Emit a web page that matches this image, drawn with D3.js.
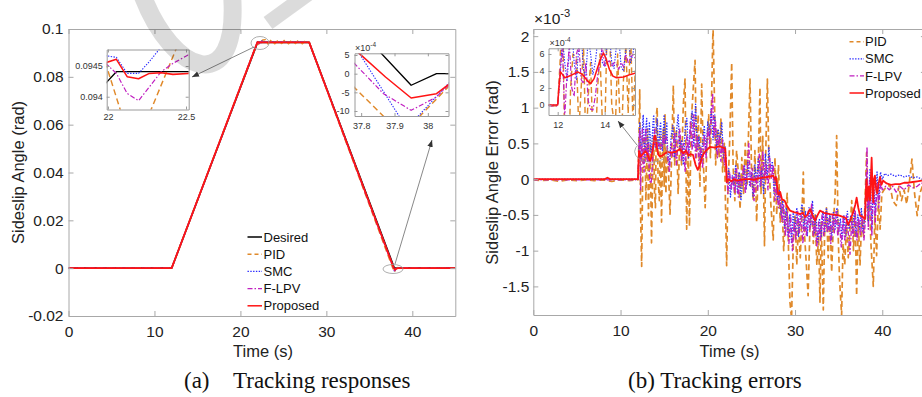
<!DOCTYPE html>
<html><head><meta charset="utf-8">
<script src="https://cdn.jsdelivr.net/npm/d3@7"></script>
<style>body{margin:0;background:#fff}svg{display:block}</style>
</head><body>
<svg id="c" width="922" height="397"></svg>
<script>
// ---------------- DATA ----------------
// (a) Tracking responses, [time (s), sideslip angle (rad)]
const respDesired = [[0,0],[12,0],[21.985,0.094217],[22.054,0.094408],[28,0.094408],[37.95,-0.00031],[38.026,0],[45,0]];
const respPID = [[0,0],[12,0],[21.985,0.094543],[22.08,0.09378],[22.17,0.0933],[22.276,0.09379],[22.437,0.09478],[22.6,0.0954],[22.9,0.0955],[23.2,0.0938],[23.6,0.0954],[24.0,0.0939],[24.4,0.0953],[24.8,0.0940],[25.2,0.0955],[25.6,0.0939],[26.0,0.0953],[26.4,0.0940],[26.8,0.0954],[27.2,0.0939],[27.6,0.0952],[28,0.0944],[37.766,-0.00025],[37.867,-0.00114],[37.904,-0.0015],[37.95,-0.0016],[37.976,-0.00114],[38.066,-0.00031],[38.3,0.0002],[38.6,-0.0001],[39,0],[45,0]];
const respSMC = [[0,0],[12,0],[21.985,0.094668],[22.054,0.094641],[22.123,0.09438],[22.196,0.09438],[22.265,0.094571],[22.33,0.094777],[22.42,0.0951],[22.7,0.0946],[23.2,0.0944],[23.8,0.0946],[24.5,0.0944],[25.2,0.0946],[26,0.0944],[26.8,0.0946],[27.5,0.0944],[28,0.0944],[37.795,0.000536],[37.914,-0.00114],[37.945,-0.0015],[37.971,-0.00114],[38.066,-0.000223],[38.3,0.0001],[38.6,0],[45,0]];
const respFLPV = [[0,0],[12,0],[21.985,0.094543],[22.054,0.09438],[22.123,0.094054],[22.196,0.093935],[22.341,0.094408],[22.416,0.094543],[22.513,0.094679],[22.8,0.0946],[23.5,0.0944],[24.5,0.0945],[25.5,0.0944],[26.5,0.0945],[27.5,0.0944],[28,0.0944],[37.766,0.0004],[37.867,-0.000536],[37.95,-0.000982],[38.026,-0.000625],[38.066,-0.000268],[38.4,0],[45,0]];
const respProposed = [[0,0],[12,0],[21.985,0.094554],[22.054,0.094609],[22.123,0.094326],[22.196,0.094293],[22.265,0.09438],[22.341,0.094391],[22.416,0.094364],[22.513,0.09438],[23,0.09439],[25,0.0944],[27,0.09439],[28,0.09438],[37.795,0.000536],[37.873,-0.000089],[37.95,-0.000652],[38.026,-0.000536],[38.066,-0.000268],[38.3,0],[45,0]];

// (b) Tracking errors, [time (s), error (x1e-3 rad)]
const errPID = [[0,-0.01],[1,-0.02],[2,-0.01],[3,-0.03],[4,-0.01],[5,-0.02],[6,-0.01],[7,-0.02],[8,-0.01],[9,-0.03],[10,-0.01],[11,-0.02],[12,-0.01],
[12.1,0.5],[12.2,1.25],[12.3,-0.5],[12.42,-1.22],[12.55,0.2],[12.65,0.6],[12.8,0.55],[12.9,-0.3],[13.0,0.2],[13.1,0.7],[13.2,-0.51],[13.3,0.1],[13.4,0.5],[13.55,-0.89],[13.7,0.2],[13.8,0.6],[13.9,-0.2],[14.0,-0.4],[14.1,0.89],[14.2,1.0],[14.3,0.0],[14.45,-0.3],[14.55,0.6],[14.7,-0.6],[14.8,0.3],[14.9,0.7],[15.0,-0.1],[15.1,0.9],[15.2,-0.2],[15.3,0.4],
[15.5,0.1],[15.67,-0.49],[15.85,0.3],[16.05,1.31],[16.2,0.2],[16.4,0.7],[16.6,-0.2],[16.8,0.6],[17.0,0.2],[17.2,1.05],[17.39,1.4],[17.58,-0.7],[17.75,0.4],[17.9,-0.66],[18.1,0.8],[18.3,1.2],[18.54,1.66],[18.7,0.3],[18.9,0.9],[19.1,-0.1],[19.3,1.33],[19.5,0.2],[19.7,-0.4],[19.9,0.5],[20.1,0.9],[20.3,0.3],[20.6,2.15],[20.75,1.2],[20.9,0.2],[21.1,0.7],[21.3,0.3],[21.5,0.84],[21.7,0.1],[21.9,0.5],[22.16,-1.21],[22.3,-0.2],[22.5,0.5],[22.74,1.63],[22.9,0.2],[23.1,-0.3],[23.3,0.4],[23.5,0.1],[23.7,-0.42],[23.9,0.3],[24.1,-0.2],[24.3,0.5],[24.5,-0.1],[24.84,1.4],[25.0,0.2],[25.2,-0.3],[25.4,0.4],[25.6,-0.6],[25.8,0.3],[25.98,1.28],[26.1,-0.2],[26.3,0.6],[26.5,-0.93],[26.65,0.4],[26.83,1.4],[27.0,0.3],[27.2,-0.3],[27.5,-0.85],[27.7,0.3],[27.9,-0.5],[28.1,0.2],[28.3,-0.6],[28.5,-0.3],[28.7,-1.0],[28.9,-0.5],[29.1,-0.2],[29.24,-0.93],[29.42,-1.72],[29.6,-1.95],[29.8,-0.9],[30.0,-0.5],[30.2,-1.2],[30.4,-0.6],[30.6,-1.1],[30.76,-0.6],[30.95,0.1],[31.1,-0.8],[31.3,-1.2],[31.5,-1.63],[31.7,-0.7],[31.9,-0.4],[32.1,-0.9],[32.3,-0.5],[32.5,-1.2],[32.7,-0.8],[32.86,-1.72],[33.0,-0.6],[33.24,-1.83],[33.4,-0.7],[33.6,-0.4],[33.8,-1.1],[34.0,-0.5],[34.2,-1.3],[34.4,-0.6],[34.6,-0.2],[34.77,0.61],[34.95,-0.8],[35.1,-1.4],[35.34,-1.9],[35.5,-0.9],[35.7,-1.2],[35.9,-0.6],[36.1,-1.1],[36.3,-0.7],[36.5,-0.3],[36.7,-1.0],[36.9,-0.5],[37.06,-1.63],[37.25,-0.6],[37.45,-1.2],[37.65,-0.5],[37.85,-0.8],[38.0,-0.4],[38.2,0.37],[38.35,-0.6],[38.5,-0.2],[38.7,-0.9],[38.97,-1.5],[39.15,-0.5],[39.35,-1.07],[39.55,-0.3],[39.75,-0.7],[39.95,-0.2],[40.2,-0.15],[40.5,-0.1],[40.9,-0.09],[41.2,-0.3],[41.6,-0.37],[41.9,-0.1],[42.2,-0.3],[42.5,-0.15],[42.8,-0.35],[43.1,-0.05],[43.4,0.28],[43.7,-0.2],[44.0,-0.51],[44.3,-0.2],[44.6,-0.1],[45,-0.2]];
const errSMC = [[0,0],[12,0],
[12.1,0.3],[12.2,0.8],[12.3,0.5],[12.4,0.28],[12.5,0.7],[12.6,0.9],[12.7,0.5],[12.8,0.3],[12.9,0.7],[13.0,0.85],[13.1,0.4],[13.2,0.35],[13.3,0.8],[13.4,0.6],[13.5,0.36],[13.6,0.5],[13.7,0.75],[13.8,0.9],[13.9,0.5],[14.0,0.45],[14.1,0.7],[14.2,0.85],[14.3,0.5],[14.4,0.43],[14.5,0.7],[14.6,0.8],[14.7,0.45],[14.8,0.4],[14.9,0.65],[15.0,0.9],[15.1,0.5],[15.2,0.6],[15.3,0.8],[15.4,0.4],
[15.6,0.2],[15.8,0.6],[16.0,0.75],[16.2,0.3],[16.4,0.65],[16.6,0.9],[16.8,0.4],[17.0,0.55],[17.2,0.2],[17.4,0.7],[17.6,0.85],[17.8,0.3],[18.0,0.7],[18.2,0.95],[18.4,0.45],[18.6,1.05],[18.8,0.4],[19.0,0.6],[19.2,0.25],[19.4,0.5],[19.6,0.75],[19.8,0.35],[20.0,0.8],[20.2,0.6],[20.4,1.0],[20.6,0.55],[20.8,0.9],[21.0,0.4],[21.2,0.7],[21.4,0.5],[21.6,0.8],[21.8,0.3],[22.0,0.45],[22.2,-0.05],[22.4,0.15],[22.6,-0.25],[22.8,0.05],[23.0,-0.1],[23.2,0.2],[23.4,-0.2],[23.6,0.1],[23.8,-0.3],[24.0,0.0],[24.2,0.2],[24.4,-0.15],[24.6,0.25],[24.8,-0.1],[25.0,0.1],[25.2,-0.25],[25.4,0.2],[25.6,-0.05],[25.8,0.3],[26.0,-0.1],[26.2,0.15],[26.4,-0.2],[26.6,0.35],[26.8,0.0],[27.0,0.45],[27.2,0.1],[27.4,0.25],[27.6,-0.2],[27.8,0.05],[28.0,-0.3],[28.2,-0.15],[28.4,-0.5],[28.6,-0.3],[28.8,-0.7],[29.0,-0.4],[29.2,-0.8],[29.4,-0.5],[29.6,-0.9],[29.8,-0.45],[30.0,-0.75],[30.2,-0.4],[30.4,-0.8],[30.6,-0.5],[30.8,-0.35],[31.0,-0.7],[31.2,-0.45],[31.4,-0.8],[31.6,-0.4],[31.8,-0.65],[32.0,-0.3],[32.2,-0.75],[32.4,-0.5],[32.6,-0.9],[32.8,-0.55],[33.0,-0.8],[33.2,-0.45],[33.4,-0.75],[33.6,-0.4],[33.8,-0.7],[34.0,-0.5],[34.2,-0.85],[34.4,-0.45],[34.6,-0.7],[34.8,-0.4],[35.0,-0.75],[35.2,-0.55],[35.4,-0.85],[35.6,-0.5],[35.8,-0.8],[36.0,-0.45],[36.2,-0.7],[36.4,-0.5],[36.6,-0.75],[36.8,-0.4],[37.0,-0.8],[37.2,-0.5],[37.4,-0.7],[37.6,-0.4],[37.8,-0.75],[38.0,-0.5],[38.2,0.1],[38.4,-0.6],[38.6,0.15],[38.8,-0.7],[39.0,0.0],[39.2,-0.5],[39.4,0.1],[39.6,-0.3],[39.8,0.1],[40.0,0.0],[40.3,0.08],[40.6,0.05],[41.0,0.07],[41.5,0.04],[42.0,0.06],[42.5,0.03],[43.0,0.05],[43.5,0.02],[44.0,0.03],[44.5,0.0],[45,0.0]];
const errFLPV = [[0,-0.01],[12,-0.01],
[12.1,0.4],[12.2,0.68],[12.3,-0.15],[12.4,0.4],[12.5,0.7],[12.6,0.2],[12.7,0.1],[12.8,0.6],[12.9,0.7],[13.0,0.3],[13.1,0.25],[13.2,0.5],[13.3,0.05],[13.4,-0.05],[13.5,-0.06],[13.6,0.1],[13.7,0.35],[13.8,0.5],[13.9,0.7],[14.0,0.45],[14.1,0.5],[14.2,0.52],[14.3,0.45],[14.4,0.5],[14.5,0.48],[14.6,0.42],[14.7,0.5],[14.8,0.45],[14.9,0.6],[15.0,0.5],[15.1,0.55],[15.2,0.6],[15.3,0.55],[15.4,0.3],
[15.6,0.1],[15.8,0.5],[16.0,0.3],[16.2,0.65],[16.4,0.2],[16.6,0.55],[16.8,0.7],[17.0,0.25],[17.2,0.5],[17.4,0.1],[17.6,0.6],[17.8,0.35],[18.0,0.8],[18.2,0.4],[18.4,0.9],[18.6,0.3],[18.8,0.6],[19.0,0.2],[19.2,0.45],[19.4,0.15],[19.6,0.6],[19.8,0.3],[20.0,0.7],[20.2,0.5],[20.4,0.9],[20.55,1.2],[20.7,0.6],[20.9,0.8],[21.1,0.3],[21.3,0.6],[21.5,0.25],[21.7,0.55],[21.9,0.2],[22.1,0.3],[22.3,-0.2],[22.5,0.1],[22.7,-0.15],[22.9,0.05],[23.1,-0.2],[23.3,0.15],[23.5,-0.25],[23.7,0.05],[23.9,-0.1],[24.1,0.2],[24.3,-0.2],[24.5,0.1],[24.7,0.5],[24.9,-0.1],[25.1,0.15],[25.3,-0.3],[25.5,0.05],[25.7,-0.15],[25.9,0.35],[26.1,-0.1],[26.3,0.4],[26.5,0.0],[26.7,0.2],[26.9,-0.15],[27.1,0.3],[27.3,0.0],[27.5,0.2],[27.7,-0.3],[27.9,-0.1],[28.1,-0.4],[28.3,-0.2],[28.5,-0.6],[28.7,-0.35],[28.9,-0.8],[29.1,-0.45],[29.3,-0.9],[29.5,-0.5],[29.7,-1.0],[29.9,-0.6],[30.1,-0.85],[30.3,-0.45],[30.5,-0.75],[30.7,-0.5],[30.9,-0.9],[31.1,-0.55],[31.3,-0.8],[31.5,-0.45],[31.7,-0.7],[31.9,-0.35],[32.1,-0.8],[32.3,-0.55],[32.5,-0.95],[32.7,-0.6],[32.9,-0.85],[33.1,-0.5],[33.3,-0.8],[33.5,-0.45],[33.7,-0.75],[33.9,-0.55],[34.1,-0.9],[34.3,-0.5],[34.5,-0.75],[34.7,-0.45],[34.9,-0.8],[35.1,-0.6],[35.3,-0.95],[35.5,-0.55],[35.7,-0.85],[35.9,-0.5],[36.1,-0.75],[36.3,-1.05],[36.5,-0.6],[36.7,-0.8],[36.9,-0.45],[37.1,-0.85],[37.3,-0.55],[37.5,-0.8],[37.7,-0.5],[37.9,-0.85],[38.1,-0.5],[38.25,0.45],[38.4,-0.7],[38.6,0.0],[38.8,-0.8],[39.0,-0.1],[39.2,-0.6],[39.4,-0.05],[39.6,-0.4],[39.8,-0.05],[40.0,-0.15],[40.4,-0.1],[40.8,-0.15],[41.2,-0.1],[41.6,-0.18],[42.0,-0.1],[42.5,-0.15],[43.0,-0.08],[43.5,-0.12],[44.0,-0.1],[44.5,-0.05],[45,-0.1]];
const errProposed = [[0,0],[8.2,0],[8.5,0.02],[8.8,0],[12,0],
[12.05,0.2],[12.12,0.39],[12.2,0.36],[12.3,0.32],[12.45,0.335],[12.65,0.36],[12.85,0.39],[13.05,0.36],[13.25,0.29],[13.4,0.25],[13.55,0.31],[13.7,0.44],[13.85,0.56],[13.95,0.61],[14.05,0.55],[14.2,0.42],[14.35,0.34],[14.5,0.32],[14.8,0.33],[15.1,0.36],[15.4,0.38],
[15.8,0.37],[16.3,0.38],[16.8,0.42],[17.2,0.36],[17.5,0.4],[17.8,0.33],[18.0,0.35],[18.3,0.34],[18.6,0.2],[18.85,0.13],[19.1,0.2],[19.4,0.33],[19.8,0.4],[20.25,0.45],[20.8,0.44],[21.3,0.46],[21.78,0.44],[22.0,0.43],[22.1,0.2],[22.16,-0.04],[22.4,0.0],[22.7,-0.03],[23.0,0.0],[23.3,-0.02],[23.8,-0.01],[24.3,0.0],[24.8,0.0],[25.3,-0.01],[25.8,0.01],[26.3,0.02],[26.8,0.03],[27.2,0.04],[27.5,0.05],[27.7,0.0],[27.8,0.03],[27.9,-0.05],[28.0,-0.15],[28.1,-0.22],[28.3,-0.18],[28.5,-0.28],[28.8,-0.3],[29.1,-0.38],[29.42,-0.44],[29.87,-0.46],[30.2,-0.47],[30.57,-0.49],[30.9,-0.47],[31.14,-0.53],[31.4,-0.5],[31.72,-0.42],[32.0,-0.5],[32.3,-0.58],[32.6,-0.5],[32.86,-0.44],[33.3,-0.47],[34.0,-0.49],[34.6,-0.5],[35.1,-0.51],[35.55,-0.53],[35.85,-0.55],[36.1,-0.64],[36.4,-0.55],[36.7,-0.45],[36.9,-0.36],[37.06,-0.26],[37.25,-0.4],[37.45,-0.51],[37.8,-0.53],[38.02,-0.56],[38.1,-0.2],[38.2,0.0],[38.3,-0.3],[38.45,-0.1],[38.6,-0.3],[38.78,0.3],[38.9,-0.2],[38.97,-0.32],[39.05,0.0],[39.16,0.05],[39.3,-0.15],[39.43,-0.2],[39.6,-0.05],[39.74,0.03],[39.9,-0.08],[40.1,-0.02],[40.5,-0.06],[41.0,-0.08],[41.5,-0.07],[42.03,-0.07],[42.5,-0.05],[43.0,-0.05],[43.5,-0.04],[44.0,-0.03],[44.5,-0.02],[45,-0.03]];

// tick labels
const timeTicks = [0, 10, 20, 30, 40];
const timeLabels = ["0", "10", "20", "30", "40"];
const respTicks = [-0.02, 0, 0.02, 0.04, 0.06, 0.08, 0.1];
const respLabels = ["-0.02", "0", "0.02", "0.04", "0.06", "0.08", "0.1"];
const errTicks = [-1.5, -1, -0.5, 0, 0.5, 1, 1.5, 2];
const errLabels = ["-1.5", "-1", "-0.5", "0", "0.5", "1", "1.5", "2"];
const insetATimeTicks = [22, 22.5], insetATimeLabels = ["22", "22.5"];
const insetAValTicks = [0.094, 0.0945], insetAValLabels = ["0.094", "0.0945"];
const insetBTimeTicks = [37.8, 37.9, 38], insetBTimeLabels = ["37.8", "37.9", "38"];
const insetBValTicks = [-10e-4, -5e-4, 0, 5e-4], insetBValLabels = ["-10", "-5", "0", "5"];
const insetCTimeTicks = [12, 14], insetCTimeLabels = ["12", "14"];
const insetCValTicks = [0, 0.2, 0.4, 0.6], insetCValLabels = ["0", "2", "4", "6"];
const respNames = ["Desired", "PID", "SMC", "F-LPV", "Proposed"];
const errNames = ["PID", "SMC", "F-LPV", "Proposed"];

// ---------------- DRAWING ----------------
const FONT = "'Liberation Sans', Arial, Helvetica, sans-serif";
const SERIF = "'Liberation Serif', 'Times New Roman', serif";
const style = {
  "Desired": {c: "#000000", d: null, w: 1.6},
  "PID": {c: "#E0892A", d: "6,3.5", w: 1.7},
  "SMC": {c: "#2B2BFF", d: "1.4,1.4", w: 1.3},
  "F-LPV": {c: "#C01FC0", d: "5,2,1.5,2", w: 1.4},
  "Proposed": {c: "#FF1414", d: null, w: 1.8}
};
const respData = {"Desired": respDesired, "PID": respPID, "SMC": respSMC, "F-LPV": respFLPV, "Proposed": respProposed};
const errData = {"PID": errPID, "SMC": errSMC, "F-LPV": errFLPV, "Proposed": errProposed};

const svg = d3.select("#c");
const defs = svg.append("defs");
defs.append("marker").attr("id", "arr").attr("viewBox", "0 0 10 10").attr("refX", 10).attr("refY", 5)
  .attr("markerUnits", "userSpaceOnUse").attr("markerWidth", 7).attr("markerHeight", 7).attr("orient", "auto")
  .append("path").attr("d", "M0,1 L10,5 L0,9 z").attr("fill", "#333");

let clipN = 0;
function clipRect(x, y) {
  const id = "clip" + (clipN++);
  const [x0, x1] = x.range(), [y1, y0] = y.range();
  defs.append("clipPath").attr("id", id).append("rect")
    .attr("x", x0).attr("y", y0).attr("width", x1 - x0).attr("height", y1 - y0);
  return id;
}
function drawSeries(g, names, data, x, y, scaleW) {
  const cid = clipRect(x, y);
  const line = d3.line().x(d => x(d[0])).y(d => y(d[1]));
  const lg = g.append("g").attr("clip-path", `url(#${cid})`);
  names.forEach(n => {
    const s = style[n];
    lg.append("path").datum(data[n]).attr("d", line).attr("fill", "none")
      .attr("stroke", s.c).attr("stroke-width", s.w * (scaleW || 1)).attr("stroke-dasharray", s.d)
      .attr("stroke-linejoin", "round");
  });
}
function drawAxes(g, x, y, o) {
  const [y1, y0] = y.range(), [x0, x1] = x.range();
  const fmtX = (d, i) => o.xl[i], fmtY = (d, i) => o.yl[i];
  const parts = [
    g.append("g").attr("transform", `translate(0,${y1})`).call(d3.axisBottom(x).tickValues(o.xt).tickFormat(fmtX).tickSizeInner(-o.tick).tickSizeOuter(0).tickPadding(o.padX)),
    g.append("g").attr("transform", `translate(0,${y0})`).call(d3.axisTop(x).tickValues(o.xt).tickFormat(() => "").tickSizeInner(-o.tick).tickSizeOuter(0)),
    g.append("g").attr("transform", `translate(${x0},0)`).call(d3.axisLeft(y).tickValues(o.yt).tickFormat(fmtY).tickSizeInner(-o.tick).tickSizeOuter(0).tickPadding(o.padY)),
    g.append("g").attr("transform", `translate(${x1},0)`).call(d3.axisRight(y).tickValues(o.yt).tickFormat(() => "").tickSizeInner(-o.tick).tickSizeOuter(0))
  ];
  parts.forEach(p => {
    p.attr("font-size", o.fs).attr("font-family", FONT);
    p.selectAll(".domain, .tick line").attr("stroke", o.color).attr("stroke-width", 1);
    p.selectAll("text").attr("fill", o.text);
  });
}
function exponent(g, x, y, base, sup, fs, color) {
  const t = g.append("text").attr("x", x).attr("y", y).attr("font-family", FONT).attr("font-size", fs).attr("fill", color);
  t.append("tspan").text(base);
  t.append("tspan").attr("dy", -fs * 0.45).attr("font-size", fs * 0.72).text(sup);
}
function legend(g, names, x1, x2, tx, y0, step) {
  names.forEach((n, i) => {
    const s = style[n], yy = y0 + i * step;
    g.append("line").attr("x1", x1).attr("x2", x2).attr("y1", yy).attr("y2", yy)
      .attr("stroke", s.c).attr("stroke-width", Math.min(s.w, 1.5)).attr("stroke-dasharray", s.d === "6,3.5" ? "4,3" : s.d);
    g.append("text").attr("x", tx).attr("y", yy).attr("dy", "0.36em").attr("font-family", FONT)
      .attr("font-size", 13).attr("fill", "#111").text(n);
  });
}
function inset(g, x, y, names, data, o) {
  const [y1, y0] = y.range(), [x0, x1] = x.range();
  g.append("rect").attr("x", x0).attr("y", y0).attr("width", x1 - x0).attr("height", y1 - y0).attr("fill", "#fff");
  drawSeries(g, names, data, x, y, 0.85);
  drawAxes(g, x, y, Object.assign({fs: 9, tick: 3, color: "#9a9a9a", text: "#333"}, o));
}

// ===== Panel (a) =====
const ga = svg.append("g");
const xA = d3.scaleLinear().domain([0, 45]).range([68.5, 455.3]);
const yA = d3.scaleLinear().domain([-0.02, 0.1]).range([316, 29]);
drawSeries(ga, respNames, respData, xA, yA);
drawAxes(ga, xA, yA, {xt: timeTicks, xl: timeLabels, yt: respTicks, yl: respLabels, fs: 15.5, tick: 5, padX: 10, padY: 5, color: "#a8a8a8", text: "#222"});
ga.append("text").attr("x", 263).attr("y", 357).attr("text-anchor", "middle").attr("font-family", FONT).attr("font-size", 16.5).attr("fill", "#222").text("Time (s)");
ga.append("text").attr("transform", "translate(18.5,172.5) rotate(-90)").attr("dy", "0.35em").attr("text-anchor", "middle").attr("font-family", FONT).attr("font-size", 16.5).attr("fill", "#222").text("Sideslip Angle (rad)");
legend(ga, respNames, 247.5, 262, 263.5, 237, 17.2);

// annotations (a)
ga.append("ellipse").attr("cx", 260).attr("cy", 43).attr("rx", 9).attr("ry", 6.5).attr("fill", "none").attr("stroke", "#999").attr("stroke-width", 0.8);
ga.append("line").attr("x1", 254).attr("y1", 47).attr("x2", 192).attr("y2", 77).attr("stroke", "#555").attr("stroke-width", 0.7).attr("marker-end", "url(#arr)");
ga.append("ellipse").attr("cx", 393).attr("cy", 269).attr("rx", 10).attr("ry", 4.5).attr("fill", "none").attr("stroke", "#999").attr("stroke-width", 0.8);
ga.append("line").attr("x1", 395).attr("y1", 264).attr("x2", 432).attr("y2", 140).attr("stroke", "#555").attr("stroke-width", 0.7).attr("marker-end", "url(#arr)");

// insets (a)
const xIA = d3.scaleLinear().domain([21.992, 22.517]).range([106.7, 188.7]);
const yIA = d3.scaleLinear().domain([0.093792, 0.094769]).range([109.5, 49.5]);
inset(ga.append("g"), xIA, yIA, respNames, respData, {xt: insetATimeTicks, xl: insetATimeLabels, yt: insetAValTicks, yl: insetAValLabels, padX: 4, padY: 4});
const xIB = d3.scaleLinear().domain([37.78, 38.062]).range([354.5, 448.5]);
const yIB = d3.scaleLinear().domain([-11.34e-4, 5.46e-4]).range([116, 53.3]);
inset(ga.append("g"), xIB, yIB, respNames, respData, {xt: insetBTimeTicks, xl: insetBTimeLabels, yt: insetBValTicks, yl: insetBValLabels, padX: 7, padY: 5});
exponent(ga, 355, 51, "×10", "-4", 9, "#333");

// caption (a)
svg.append("text").attr("x", 184).attr("y", 388).attr("font-family", SERIF).attr("font-size", 23).attr("fill", "#111").text("(a)");
svg.append("text").attr("x", 233).attr("y", 388).attr("font-family", SERIF).attr("font-size", 23).attr("fill", "#111").text("Tracking responses");

// ===== Panel (b) =====
const gb = svg.append("g");
const xB = d3.scaleLinear().domain([0, 45]).range([533.3, 925.9]);
const yB = d3.scaleLinear().domain([-1.9, 2.1]).range([315, 29]);
drawSeries(gb, errNames, errData, xB, yB);
drawAxes(gb, xB, yB, {xt: timeTicks, xl: timeLabels, yt: errTicks, yl: errLabels, fs: 15.5, tick: 5, padX: 10, padY: 4, color: "#a8a8a8", text: "#222"});
exponent(gb, 534, 24, "×10", "-3", 15.5, "#222");
gb.append("text").attr("x", 729.5).attr("y", 357).attr("text-anchor", "middle").attr("font-family", FONT).attr("font-size", 16.5).attr("fill", "#222").text("Time (s)");
gb.append("text").attr("transform", "translate(492,172.5) rotate(-90)").attr("dy", "0.35em").attr("text-anchor", "middle").attr("font-family", FONT).attr("font-size", 16.5).attr("fill", "#222").text("Sideslip Angle Error (rad)");
legend(gb, errNames, 849.5, 864, 865, 41.7, 17.1);

gb.append("ellipse").attr("cx", 651.3).attr("cy", 151.5).attr("rx", 16.7).attr("ry", 10.8).attr("fill", "none").attr("stroke", "#999").attr("stroke-width", 0.8);
gb.append("line").attr("x1", 637).attr("y1", 145).attr("x2", 618).attr("y2", 121).attr("stroke", "#555").attr("stroke-width", 0.7).attr("marker-end", "url(#arr)");

const xIC = d3.scaleLinear().domain([11.609, 15.29]).range([548.5, 635]);
const yIC = d3.scaleLinear().domain([-0.118, 0.667]).range([115, 48.3]);
inset(gb.append("g"), xIC, yIC, errNames, errData, {xt: insetCTimeTicks, xl: insetCTimeLabels, yt: insetCValTicks, yl: insetCValLabels, padX: 7, padY: 4});
exponent(gb, 549.5, 46, "×10", "-4", 9, "#333");

svg.append("text").attr("x", 628).attr("y", 388).attr("font-family", SERIF).attr("font-size", 23).attr("fill", "#111").text("(b) Tracking errors");

// faint watermark strokes over panel (a)
svg.append("path").attr("d", "M142,-6 C172,75 240,100 232,-6").attr("fill", "none").attr("stroke", "#000").attr("stroke-opacity", 0.14).attr("stroke-width", 18);
svg.append("path").attr("d", "M268,23 L308,-6").attr("fill", "none").attr("stroke", "#000").attr("stroke-opacity", 0.14).attr("stroke-width", 15);
</script>
</body></html>
